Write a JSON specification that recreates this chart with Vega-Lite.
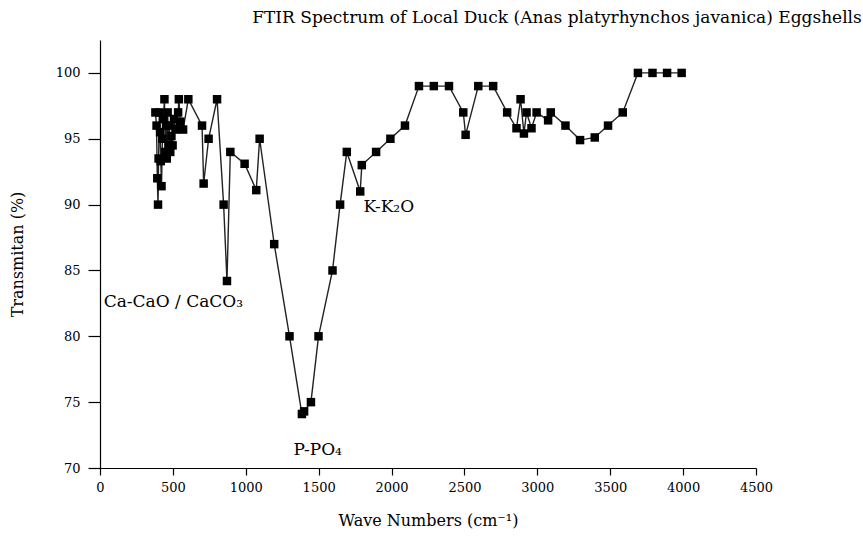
{
  "$schema": "https://vega.github.io/schema/vega-lite/v6.json",
  "autosize": {"type": "none"},
  "width": 656,
  "height": 428,
  "padding": {"left": 100, "top": 40, "right": 107, "bottom": 68},
  "background": "white",
  "config": {"view": {"stroke": null}, "font": "DejaVu Serif"},
  "title": {
    "text": "FTIR Spectrum of Local Duck (Anas platyrhynchos javanica) Eggshells",
    "anchor": "start",
    "dx": 243,
    "offset": 13,
    "font": "DejaVu Serif",
    "fontSize": 17,
    "fontWeight": "normal",
    "color": "#000"
  },
  "datasets": {
    "spectrum": [
      {"wave": 380, "t": 97}, {"wave": 388, "t": 96}, {"wave": 393, "t": 92}, {"wave": 398, "t": 90},
      {"wave": 402, "t": 93.5}, {"wave": 407, "t": 97}, {"wave": 412, "t": 95.5}, {"wave": 417, "t": 93.3},
      {"wave": 422, "t": 91.4}, {"wave": 428, "t": 95}, {"wave": 435, "t": 96.5}, {"wave": 442, "t": 98},
      {"wave": 448, "t": 94}, {"wave": 453, "t": 96}, {"wave": 458, "t": 93.5}, {"wave": 464, "t": 97},
      {"wave": 470, "t": 94.5}, {"wave": 476, "t": 96}, {"wave": 482, "t": 94}, {"wave": 490, "t": 95.2},
      {"wave": 498, "t": 94.5}, {"wave": 508, "t": 96.5}, {"wave": 518, "t": 95.7}, {"wave": 536, "t": 97},
      {"wave": 541, "t": 98}, {"wave": 551, "t": 96.3}, {"wave": 570, "t": 95.7}, {"wave": 606, "t": 98},
      {"wave": 700, "t": 96}, {"wave": 711, "t": 91.6}, {"wave": 745, "t": 95}, {"wave": 803, "t": 98},
      {"wave": 848, "t": 90}, {"wave": 871, "t": 84.2}, {"wave": 894, "t": 94}, {"wave": 992, "t": 93.1},
      {"wave": 1072, "t": 91.1}, {"wave": 1095, "t": 95}, {"wave": 1195, "t": 87}, {"wave": 1300, "t": 80},
      {"wave": 1385, "t": 74.1}, {"wave": 1400, "t": 74.3}, {"wave": 1447, "t": 75}, {"wave": 1499, "t": 80},
      {"wave": 1595, "t": 85}, {"wave": 1647, "t": 90}, {"wave": 1693, "t": 94}, {"wave": 1785, "t": 91},
      {"wave": 1796, "t": 93}, {"wave": 1894, "t": 94}, {"wave": 1992, "t": 95}, {"wave": 2092, "t": 96},
      {"wave": 2188, "t": 99}, {"wave": 2290, "t": 99}, {"wave": 2394, "t": 99}, {"wave": 2492, "t": 97},
      {"wave": 2508, "t": 95.3}, {"wave": 2595, "t": 99}, {"wave": 2697, "t": 99}, {"wave": 2793, "t": 97},
      {"wave": 2857, "t": 95.8}, {"wave": 2885, "t": 98}, {"wave": 2908, "t": 95.4}, {"wave": 2926, "t": 97},
      {"wave": 2960, "t": 95.8}, {"wave": 2995, "t": 97}, {"wave": 3074, "t": 96.4}, {"wave": 3092, "t": 97},
      {"wave": 3193, "t": 96}, {"wave": 3293, "t": 94.9}, {"wave": 3394, "t": 95.1}, {"wave": 3485, "t": 96},
      {"wave": 3586, "t": 97}, {"wave": 3690, "t": 100}, {"wave": 3790, "t": 100}, {"wave": 3890, "t": 100},
      {"wave": 3990, "t": 100}
    ],
    "notes": [
      {"wave": 25, "t": 82.6, "text": "Ca-CaO / CaCO₃"},
      {"wave": 1807, "t": 89.8, "text": "K-K₂O"},
      {"wave": 1327, "t": 71.4, "text": "P-PO₄"}
    ]
  },
  "layer": [
    {
      "data": {"name": "spectrum"},
      "mark": {"type": "line", "color": "#222", "strokeWidth": 1.4},
      "encoding": {
        "x": {
          "field": "wave", "type": "quantitative",
          "scale": {"domain": [0, 4500], "nice": false, "zero": false},
          "axis": {
            "title": "Wave Numbers (cm⁻¹)",
            "values": [0, 250, 500, 750, 1000, 1250, 1500, 1750, 2000, 2250, 2500, 2750, 3000, 3250, 3500, 3750, 4000, 4250, 4500],
            "labelExpr": "datum.value % 500 == 0 ? format(datum.value, 'd') : ''",
            "grid": false,
            "domainColor": "#000", "domainWidth": 1.2,
            "tickColor": "#000", "tickSize": 7, "tickWidth": 1.2,
            "labelFont": "DejaVu Serif", "labelFontSize": 13, "labelColor": "#000", "labelPadding": 6,
            "labelFlush": false, "labelOverlap": false,
            "titleFont": "DejaVu Serif", "titleFontSize": 16, "titleFontWeight": "normal", "titleColor": "#000",
            "titlePadding": 18
          }
        },
        "y": {
          "field": "t", "type": "quantitative",
          "scale": {"domain": [70, 102.5], "nice": false, "zero": false},
          "axis": {
            "title": "Transmitan (%)",
            "values": [70, 72.5, 75, 77.5, 80, 82.5, 85, 87.5, 90, 92.5, 95, 97.5, 100],
            "labelExpr": "datum.value % 5 == 0 ? format(datum.value, 'd') : ''",
            "grid": false,
            "domainColor": "#000", "domainWidth": 1.2,
            "tickColor": "#000", "tickSize": 12, "tickWidth": 1.2,
            "labelFont": "DejaVu Serif", "labelFontSize": 13, "labelColor": "#000", "labelPadding": 8,
            "labelFlush": false, "labelOverlap": false,
            "titleFont": "DejaVu Serif", "titleFontSize": 16, "titleFontWeight": "normal", "titleColor": "#000",
            "titlePadding": 30
          }
        }
      }
    },
    {
      "data": {"name": "spectrum"},
      "mark": {"type": "point", "shape": "square", "filled": true, "color": "#000", "size": 72, "opacity": 1},
      "encoding": {
        "x": {"field": "wave", "type": "quantitative"},
        "y": {"field": "t", "type": "quantitative"}
      }
    },
    {
      "data": {"name": "notes"},
      "mark": {"type": "text", "align": "left", "baseline": "middle", "font": "DejaVu Serif", "fontSize": 17, "color": "#000"},
      "encoding": {
        "x": {"field": "wave", "type": "quantitative"},
        "y": {"field": "t", "type": "quantitative"},
        "text": {"field": "text"}
      }
    }
  ]
}
